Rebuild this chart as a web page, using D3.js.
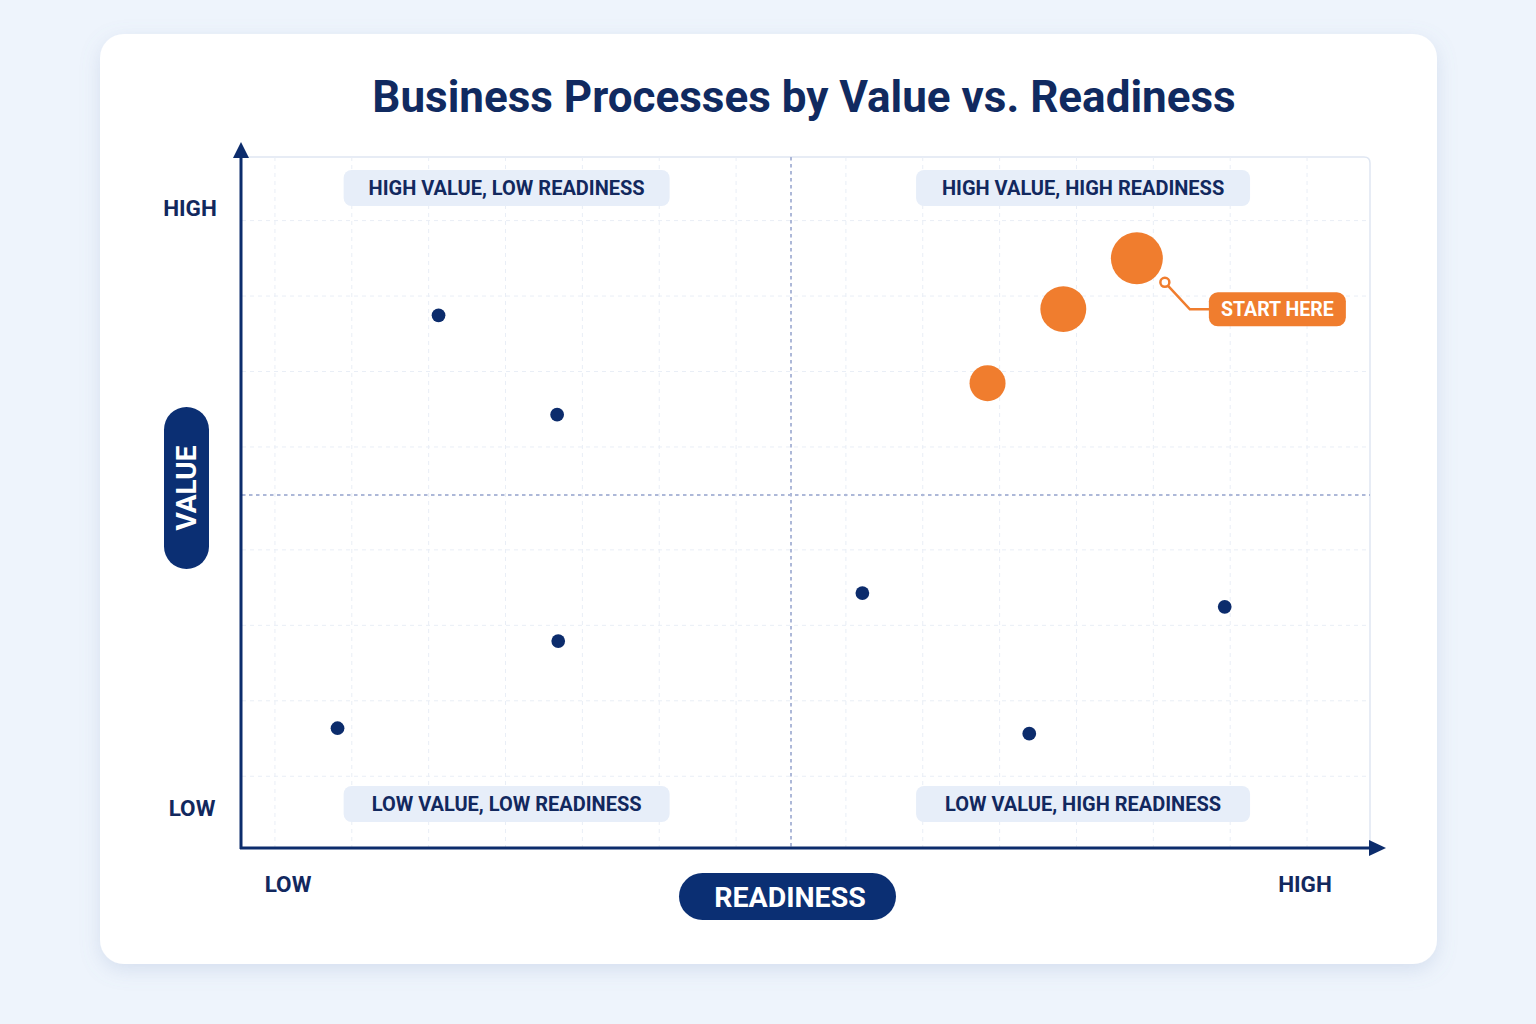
<!DOCTYPE html>
<html>
<head>
<meta charset="utf-8">
<script src="https://cdn.jsdelivr.net/npm/d3@7"></script>
<style>
  html, body { margin: 0; padding: 0; background: #eef4fc; }
  svg { display: block; font-family: Roboto, "Noto Sans", sans-serif; }
</style>
</head>
<body>
<svg width="1536" height="1024"></svg>
<script>
// Readiness (x) and value (y) on a 0-100 scale, size = relative impact
const processX = [17.9, 28.7, 28.8, 8.7, 56.5, 89.5, 71.7, 67.9, 74.8, 81.5];
const processY = [76.2, 61.7, 28.7, 16.0, 35.7, 33.7, 15.2, 66.3, 77.1, 84.5];
const processSize = [7, 7, 7, 7, 7, 7, 7, 48, 78, 100];
const processPriority = [false, false, false, false, false, false, false, true, true, true];

const quadrantLabels = ["HIGH VALUE, LOW READINESS", "HIGH VALUE, HIGH READINESS",
                        "LOW VALUE, LOW READINESS", "LOW VALUE, HIGH READINESS"];
const quadrantX = [24.1, 76.6, 24.1, 76.6];

const gridX = [3, 10, 17, 24, 31, 38, 45, 55, 62, 69, 76, 83, 90, 97];
const gridY = [9, 20, 31, 42, 57, 68, 79, 90];

const navy = "#0c2c6c", orange = "#f07d2e";
const svg = d3.select("svg");

// soft shadow for the card
const defs = svg.append("defs");
const f = defs.append("filter").attr("id", "shadow").attr("x", "-10%").attr("y", "-10%")
    .attr("width", "120%").attr("height", "125%");
f.append("feDropShadow").attr("dx", 0).attr("dy", 6).attr("stdDeviation", 10)
    .attr("flood-color", "#7d93bf").attr("flood-opacity", 0.22);

svg.append("rect").attr("x", 100).attr("y", 34).attr("width", 1337).attr("height", 930)
    .attr("rx", 24).attr("fill", "#fff").attr("filter", "url(#shadow)");

svg.append("text").attr("x", 804).attr("y", 112).attr("text-anchor", "middle")
    .attr("font-size", 44).attr("font-weight", 700).attr("fill", "#102a60")
    .text("Business Processes by Value vs. Readiness");

const x = d3.scaleLinear().domain([0, 100]).range([242, 1340]);
const y = d3.scaleLinear().domain([0, 100]).range([838, 152]);
const r = d3.scaleSqrt().domain([0, 100]).range([0, 26]);

const pLeft = 242, pRight = 1370, pTop = 157, pBottom = 848;

// plot frame
svg.append("path")
    .attr("d", `M${pLeft},${pTop}H${pRight - 6}Q${pRight},${pTop} ${pRight},${pTop + 6}V${pBottom}`)
    .attr("fill", "none").attr("stroke", "#dfe6f2").attr("stroke-width", 1.5);

// minor grid
svg.append("g").selectAll("line").data(gridX).join("line")
    .attr("x1", d => x(d)).attr("x2", d => x(d)).attr("y1", pTop).attr("y2", pBottom)
    .attr("stroke", "#e9eef6").attr("stroke-dasharray", "4 4");
svg.append("g").selectAll("line").data(gridY).join("line")
    .attr("y1", d => y(d)).attr("y2", d => y(d)).attr("x1", pLeft).attr("x2", pRight)
    .attr("stroke", "#e9eef6").attr("stroke-dasharray", "4 4");

// quadrant dividers
svg.append("line").attr("x1", x(50)).attr("x2", x(50)).attr("y1", pTop).attr("y2", pBottom)
    .attr("stroke", "#adb8d8").attr("stroke-width", 2).attr("stroke-dasharray", "3.5 3.5");
svg.append("line").attr("y1", y(50)).attr("y2", y(50)).attr("x1", pLeft).attr("x2", pRight)
    .attr("stroke", "#adb8d8").attr("stroke-width", 2).attr("stroke-dasharray", "3.5 3.5");

// quadrant label pills
const q = svg.append("g").selectAll("g").data(quadrantLabels).join("g")
    .attr("transform", (d, i) => `translate(${x(quadrantX[i])},${i < 2 ? 188 : 804})`);
q.append("rect").attr("x", (d, i) => i % 2 ? -167 : -163).attr("y", -18)
    .attr("width", (d, i) => i % 2 ? 334 : 326).attr("height", 36).attr("rx", 8)
    .attr("fill", "#e7eef9");
q.append("text").attr("text-anchor", "middle").attr("dy", "0.35em")
    .attr("font-size", 20).attr("font-weight", 700).attr("fill", "#12285e")
    .text(d => d);

// axes with arrowheads
svg.append("line").attr("x1", pLeft - 1).attr("x2", pLeft - 1).attr("y1", pBottom + 1).attr("y2", 152)
    .attr("stroke", navy).attr("stroke-width", 3);
svg.append("path").attr("d", `M${pLeft - 1},142 L${pLeft - 9},158 L${pLeft + 7},158 Z`).attr("fill", navy);
svg.append("line").attr("x1", pLeft - 2).attr("x2", 1375).attr("y1", pBottom).attr("y2", pBottom)
    .attr("stroke", navy).attr("stroke-width", 3);
svg.append("path").attr("d", `M1386,${pBottom} L1369,${pBottom - 8} L1369,${pBottom + 8} Z`).attr("fill", navy);

// axis end labels
const endLabel = (tx, ty, t) => svg.append("text").attr("x", tx).attr("y", ty)
    .attr("text-anchor", "middle").attr("dy", "0.35em").attr("font-size", 22.5)
    .attr("font-weight", 700).attr("fill", "#12285e").text(t);
endLabel(190, 208, "HIGH");
endLabel(192, 808, "LOW");
endLabel(288, 884, "LOW");
endLabel(1305, 884, "HIGH");

// axis title pills
svg.append("rect").attr("x", 164).attr("y", 407).attr("width", 45).attr("height", 162)
    .attr("rx", 22.5).attr("fill", "#0b2f73");
svg.append("text").attr("transform", "translate(186,488) rotate(-90)")
    .attr("text-anchor", "middle").attr("dy", "0.36em").attr("font-size", 28)
    .attr("font-weight", 700).attr("fill", "#fff").text("VALUE");
svg.append("rect").attr("x", 679).attr("y", 873).attr("width", 217).attr("height", 47)
    .attr("rx", 23.5).attr("fill", "#0b2f73");
svg.append("text").attr("x", 790).attr("y", 897).attr("text-anchor", "middle")
    .attr("dy", "0.36em").attr("font-size", 28.5).attr("font-weight", 700)
    .attr("fill", "#fff").text("READINESS");

// process points
const idx = d3.range(processX.length);
svg.append("g").selectAll("circle").data(idx).join("circle")
    .attr("cx", i => x(processX[i])).attr("cy", i => y(processY[i]))
    .attr("r", i => r(processSize[i]))
    .attr("fill", i => processPriority[i] ? orange : navy);

// "start here" callout from the top priority bubble
const top3 = idx.filter(i => processPriority[i]);
const best = top3[top3.length - 1];
const bx = x(processX[best]), by = y(processY[best]);
const ax = bx + 28, ay = by + 24;
svg.append("path").attr("d", `M${ax},${ay} L${ax + 25},${ay + 27} H${ax + 46}`)
    .attr("fill", "none").attr("stroke", orange).attr("stroke-width", 2.5);
svg.append("circle").attr("cx", ax).attr("cy", ay).attr("r", 4.5)
    .attr("fill", "#fff").attr("stroke", orange).attr("stroke-width", 2.5);
svg.append("rect").attr("x", ax + 44).attr("y", ay + 10).attr("width", 137).attr("height", 34)
    .attr("rx", 9).attr("fill", orange);
svg.append("text").attr("x", ax + 112.5).attr("y", ay + 27).attr("text-anchor", "middle")
    .attr("dy", "0.36em").attr("font-size", 19.5).attr("font-weight", 700)
    .attr("fill", "#fff").text("START HERE");
</script>
</body>
</html>
